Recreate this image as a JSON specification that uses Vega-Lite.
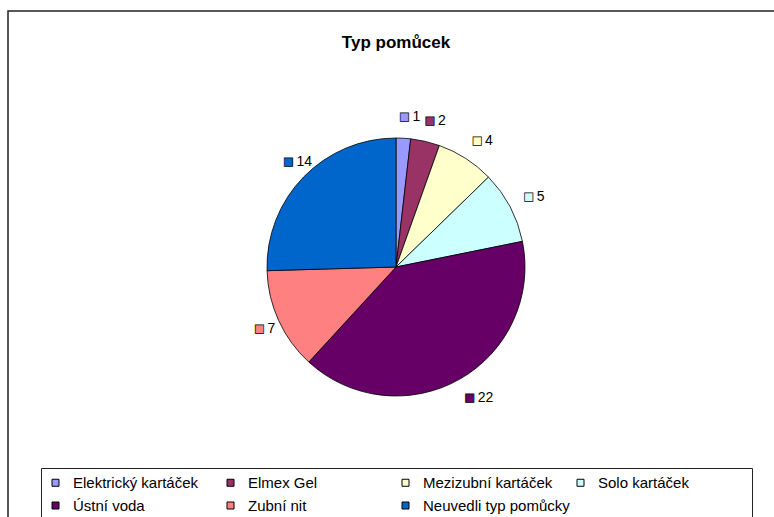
{
  "$schema": "https://vega.github.io/schema/vega-lite/v6.json",
  "width": 776,
  "height": 512,
  "autosize": "none",
  "padding": {"left": 8, "top": 11, "right": 0, "bottom": 0},
  "background": "white",
  "view": {"stroke": "#222222", "strokeWidth": 1.5, "fill": "white"},
  "config": {
    "font": "Liberation Sans"
  },
  "title": {
    "text": "Typ pomůcek",
    "font": "Liberation Sans",
    "fontSize": 17,
    "fontWeight": "bold",
    "color": "black",
    "anchor": "middle",
    "offset": -41
  },
  "data": {
    "values": [
      {"typ": "Elektrický kartáček", "pocet": 1, "poradi": 1},
      {"typ": "Elmex Gel", "pocet": 2, "poradi": 2},
      {"typ": "Mezizubní kartáček", "pocet": 4, "poradi": 3},
      {"typ": "Solo kartáček", "pocet": 5, "poradi": 4},
      {"typ": "Ústní voda", "pocet": 22, "poradi": 5},
      {"typ": "Zubní nit", "pocet": 7, "poradi": 6},
      {"typ": "Neuvedli typ pomůcky", "pocet": 14, "poradi": 7}
    ]
  },
  "encoding": {
    "theta": {"field": "pocet", "type": "quantitative", "stack": true},
    "order": {"field": "poradi", "type": "quantitative"},
    "color": {
      "field": "typ",
      "type": "nominal",
      "scale": {
        "domain": ["Elektrický kartáček", "Elmex Gel", "Mezizubní kartáček", "Solo kartáček", "Ústní voda", "Zubní nit", "Neuvedli typ pomůcky"],
        "range": ["#9999FF", "#993366", "#FFFFCC", "#CCFFFF", "#660066", "#FF8080", "#0066CC"]
      },
      "legend": {
        "title": " ",
        "titleOrient": "right",
        "titlePadding": 56,
        "titleFontSize": 4,
        "orient": "none",
        "legendX": 33,
        "legendY": 457,
        "direction": "horizontal",
        "columns": 4,
        "gridAlign": "all",
        "columnPadding": 3,
        "rowPadding": 7,
        "symbolType": "square",
        "symbolSize": 49,
        "symbolStrokeColor": "black",
        "symbolStrokeWidth": 1,
        "labelFont": "Liberation Sans",
        "labelFontSize": 15,
        "labelColor": "black",
        "labelOffset": 10,
        "labelLimit": 300,
        "padding": 7,
        "strokeColor": "#222222",
        "fillColor": "white"
      }
    }
  },
  "layer": [
    {
      "mark": {"type": "arc", "outerRadius": 129, "stroke": "black", "strokeWidth": 0.8}
    },
    {
      "mark": {"type": "text", "radius": 150, "text": "■", "font": "DejaVu Sans", "fontSize": 11, "stroke": "black", "strokeWidth": 0.7, "align": "center", "baseline": "middle"}
    },
    {
      "mark": {"type": "text", "radius": 150, "dx": 8, "align": "left", "baseline": "middle", "font": "Liberation Sans", "fontSize": 14},
      "encoding": {
        "text": {"field": "pocet", "type": "quantitative"},
        "color": {"value": "black"}
      }
    }
  ]
}
